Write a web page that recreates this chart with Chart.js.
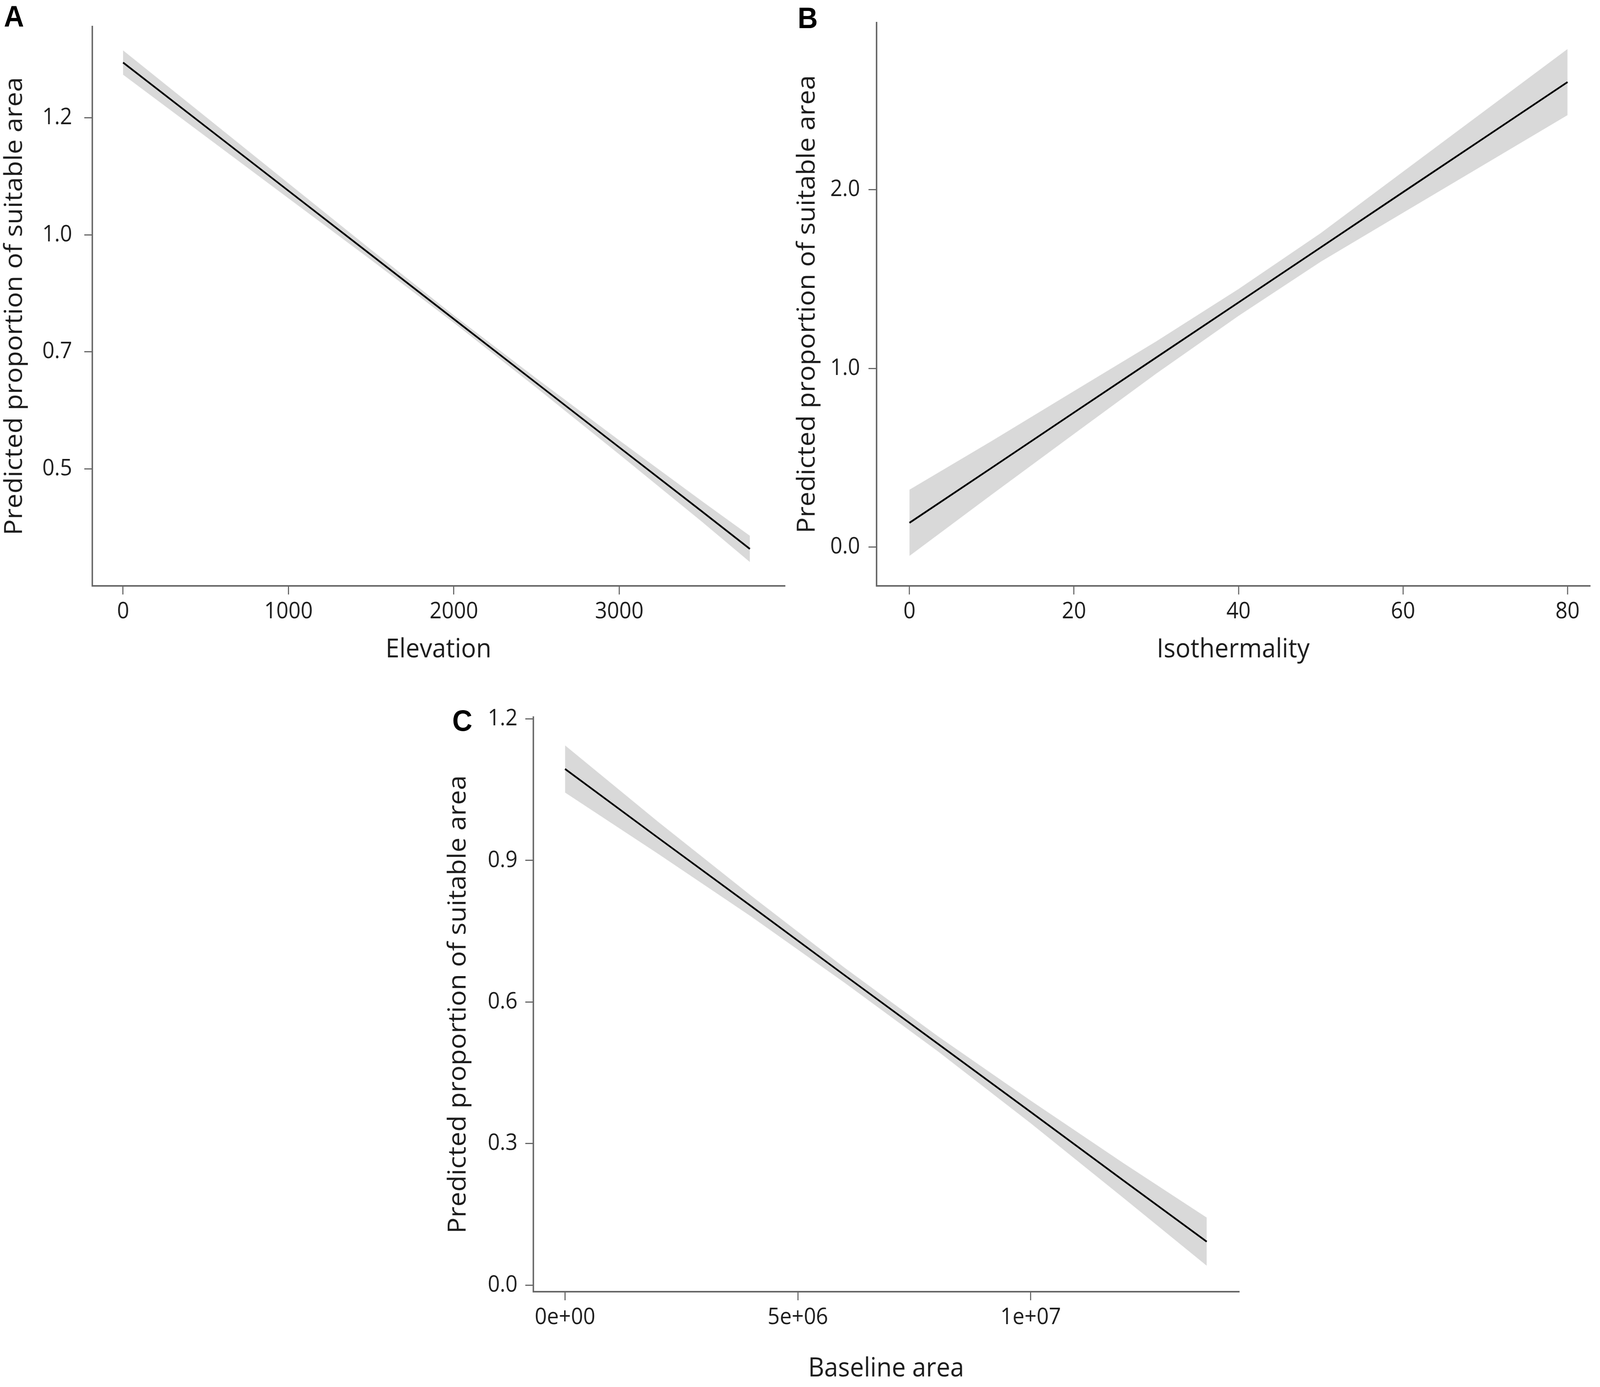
<!DOCTYPE html>
<html>
<head>
<meta charset="utf-8">
<script src="https://cdn.jsdelivr.net/npm/chart.js@4.4.1/dist/chart.umd.min.js"></script>
<style>
  html, body { margin: 0; padding: 0; background: #fff; overflow: hidden; }
  #frame { position: relative; overflow: hidden; width: 4368px; height: 3551px; }
  #page { width: 4368px; height: 3551px; position: absolute; left: 0; top: 0; transform-origin: 0 0; background: #fff; }
  canvas { position: absolute; }
  .tag { position: absolute; font-family: "Liberation Sans", Arial, sans-serif; font-weight: bold; font-size: 76px; line-height: 1; color: #000; transform: translate(-50%, -50%); }
</style>
</head>
<body>
<div id="frame">
<div id="page">
  <div class="tag" style="left:38px;top:42px">A</div>
  <div class="tag" style="left:2205px;top:46px">B</div>
  <div class="tag" style="left:1262px;top:1845px">C</div>
  <canvas id="panelA" width="2200" height="1720" style="left:0;top:0"></canvas>
  <canvas id="panelB" width="2218" height="1720" style="left:2150px;top:0"></canvas>
  <canvas id="panelC" width="2300" height="1771" style="left:1150px;top:1780px"></canvas>
</div>
</div>
<script>
// panel A: elevation
const elevation = [0, 500, 1000, 1500, 2000, 2500, 3000, 3500, 3790];
const elevFit   = [1.368, 1.231, 1.094, 0.957, 0.820, 0.683, 0.546, 0.409, 0.329];
const elevLow   = [1.342, 1.210, 1.078, 0.946, 0.812, 0.673, 0.531, 0.387, 0.301];
const elevHigh  = [1.394, 1.252, 1.110, 0.968, 0.828, 0.693, 0.561, 0.431, 0.357];
const elevXTicks = [0, 1000, 2000, 3000];
const elevXLabels = ["0", "1000", "2000", "3000"];
const elevYTicks = [0.5, 0.75, 1.0, 1.25];
const elevYLabels = ["0.5", "0.7", "1.0", "1.2"];

// panel B: isothermality
const isotherm = [0, 10, 20, 30, 40, 50, 60, 70, 80];
const isoFit   = [0.136, 0.444, 0.753, 1.061, 1.369, 1.677, 1.986, 2.294, 2.602];
const isoLow   = [-0.049, 0.294, 0.633, 0.971, 1.294, 1.597, 1.871, 2.144, 2.417];
const isoHigh  = [0.321, 0.594, 0.873, 1.151, 1.444, 1.757, 2.101, 2.444, 2.787];
const isoXTicks = [0, 20, 40, 60, 80];
const isoXLabels = ["0", "20", "40", "60", "80"];
const isoYTicks = [0, 1, 2];
const isoYLabels = ["0.0", "1.0", "2.0"];

// panel C: baseline area
const baseArea = [0, 2e6, 4e6, 6e6, 8e6, 10e6, 12e6, 13.78e6];
const areaFit  = [1.094, 0.948, 0.803, 0.657, 0.512, 0.367, 0.221, 0.092];
const areaLow  = [1.044, 0.914, 0.781, 0.641, 0.496, 0.343, 0.184, 0.041];
const areaHigh = [1.144, 0.982, 0.825, 0.673, 0.528, 0.391, 0.258, 0.143];
const areaXTicks = [0, 5e6, 1e7];
const areaXLabels = ["0e+00", "5e+06", "1e+07"];
const areaYTicks = [0, 0.3, 0.6, 0.9, 1.2];
const areaYLabels = ["0.0", "0.3", "0.6", "0.9", "1.2"];

const yTitle = "Predicted proportion of suitable area";
const font = "'Open Sans', 'DejaVu Sans', sans-serif";
const axisGrey = "#666666";
const bandGrey = "#d9d9d9";
const textCol = "#1c1c1c";

// stretch the 4368x3551 figure over the viewport we really get
let vw = window.innerWidth, vh = window.innerHeight;
let frame = document.querySelector("#frame");
frame.style.width = vw + "px";
frame.style.height = vh + "px";
document.querySelector("#page").style.transform = `scale(${vw / 4368}, ${vh / 3551})`;

function pts(xs, ys) {
  return xs.map((x, i) => ({ x: x, y: ys[i] }));
}

function makePanel(id, p) {
  let ctx = document.querySelector(id).getContext("2d");
  return new Chart(ctx, {
    type: "line",
    data: {
      datasets: [
        { data: pts(p.x, p.fit), borderColor: "#000", borderWidth: 4.5, pointRadius: 0, fill: false },
        { data: pts(p.x, p.high), borderWidth: 0, pointRadius: 0, backgroundColor: bandGrey, fill: "+1" },
        { data: pts(p.x, p.low), borderWidth: 0, pointRadius: 0, fill: false },
      ],
    },
    options: {
      responsive: false,
      animation: false,
      devicePixelRatio: 1,
      layout: { padding: p.pad },
      plugins: { legend: { display: false }, tooltip: { enabled: false } },
      scales: {
        x: {
          type: "linear",
          min: p.xMin,
          max: p.xMax,
          afterBuildTicks: (s) => { s.ticks = p.xTicks.map((v) => ({ value: v })); },
          afterFit: (s) => { s.height = p.xH; },
          ticks: {
            callback: (v, i) => p.xLabels[i],
            font: { family: font, size: 58 },
            color: textCol,
            padding: 10,
            maxRotation: 0,
          },
          grid: { drawOnChartArea: false, drawTicks: true, tickLength: 22, color: axisGrey, lineWidth: 3 },
          border: { display: true, color: axisGrey, width: 4 },
          title: { display: true, text: p.xTitle, font: { family: font, size: 68 }, color: textCol, padding: { top: 0, bottom: p.xTitlePad } },
        },
        y: {
          type: "linear",
          min: p.yMin,
          max: p.yMax,
          afterBuildTicks: (s) => { s.ticks = p.yTicks.map((v) => ({ value: v })); },
          afterFit: (s) => { s.width = p.yW; },
          ticks: {
            callback: (v, i) => p.yLabels[i],
            font: { family: font, size: 58 },
            color: textCol,
            padding: p.yTickPad,
          },
          grid: { drawOnChartArea: false, drawTicks: true, tickLength: 22, color: axisGrey, lineWidth: 3 },
          border: { display: true, color: axisGrey, width: 4 },
          title: { display: true, text: yTitle, font: { family: font, size: 68 }, color: textCol, padding: { top: p.yTitlePad, bottom: 0 } },
        },
      },
    },
  });
}

makePanel("#panelA", {
  x: elevation, fit: elevFit, low: elevLow, high: elevHigh,
  xTicks: elevXTicks, xLabels: elevXLabels, yTicks: elevYTicks, yLabels: elevYLabels,
  xMin: -186, xMax: 4000, yMin: 0.25, yMax: 1.445,
  pad: { left: 0, top: 17, right: 58, bottom: 0 },
  xH: 220, yW: 252, yTickPad: 33, yTitlePad: 0, xTitlePad: 16,
  xTitle: "Elevation",
});

makePanel("#panelB", {
  x: isotherm, fit: isoFit, low: isoLow, high: isoHigh,
  xTicks: isoXTicks, xLabels: isoXLabels, yTicks: isoYTicks, yLabels: isoYLabels,
  xMin: -4.0, xMax: 82.7, yMin: -0.217, yMax: 2.935,
  pad: { left: 0, top: 17, right: 28, bottom: 0 },
  xH: 220, yW: 243, yTickPad: 23, yTitlePad: 14, xTitlePad: 16,
  xTitle: "Isothermality",
});

makePanel("#panelC", {
  x: baseArea, fit: areaFit, low: areaLow, high: areaHigh,
  xTicks: areaXTicks, xLabels: areaXLabels, yTicks: areaYTicks, yLabels: areaYLabels,
  xMin: -0.68e6, xMax: 14.47e6, yMin: -0.014, yMax: 1.204,
  pad: { left: 0, top: 54, right: 68, bottom: 0 },
  xH: 244, yW: 306, yTickPad: 21, yTitlePad: 61, xTitlePad: 6,
  xTitle: "Baseline area",
});
</script>
</body>
</html>
